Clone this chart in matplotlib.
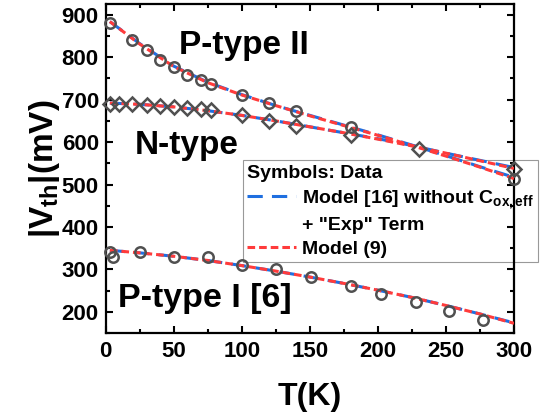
import matplotlib
matplotlib.use("Agg")
import matplotlib.pyplot as plt
from matplotlib.lines import Line2D
from matplotlib.ticker import MultipleLocator

plt.rcParams["font.family"] = ["Liberation Sans", "DejaVu Sans"]
plt.rcParams["font.weight"] = "bold"
plt.rcParams["mathtext.fontset"] = "custom"
plt.rcParams["mathtext.rm"] = "Liberation Sans:bold"
plt.rcParams["mathtext.it"] = "Liberation Sans:bold"
plt.rcParams["mathtext.bf"] = "Liberation Sans:bold"

# ---- data
t_p2 = [3, 19, 30, 40, 50, 60, 70, 77, 100, 120, 140, 180, 300]
v_p2 = [880, 840, 816, 794, 776, 759, 747, 737, 712, 692, 674, 635, 514]

t_n = [3, 10, 19, 30, 40, 50, 60, 70, 77, 100, 120, 140, 180, 230, 300]
v_n = [690, 690, 689, 687, 685, 683, 681, 677, 675, 663, 649, 638, 616, 584, 537]

t_p1 = [3, 5, 25, 50, 75, 100, 125, 151, 180, 202, 228, 252, 277]
v_p1 = [342, 330, 340, 330, 330, 310, 300, 281, 262, 242, 223, 201, 181]

# model curves
t_mod = [3, 25, 50, 75, 100, 125, 150, 175, 200, 225, 250, 275, 300]
blue_p2 = [884, 832, 779, 741, 712, 686, 663, 640, 617, 593, 568, 542, 517]
red_p2 = [884, 831, 778, 740, 711, 686, 662, 639, 616, 592, 567, 541, 514]
blue_n = [692, 689, 683, 674, 663, 650, 636, 622, 608, 592, 574, 557, 540]
red_n = [692, 689, 683, 674, 663, 650, 636, 622, 607, 591, 574, 556, 538]
blue_p1 = [345, 339, 331, 321, 309, 296, 282, 267, 251, 234, 215, 195, 174]
red_p1 = [345, 339, 331, 321, 309, 296, 282, 267, 251, 234, 215, 195, 173]

BLUE = "#1f6fe0"
RED = "#ff3b3b"
GREY = "#505050"
BLUE_DASH = (5, 3)
RED_DASH = (2.5, 1.3)

fig = plt.figure(figsize=(5.48, 4.20), dpi=100)
ax = fig.add_axes([0.193, 0.207, 0.745, 0.783])

# model lines
for yb, yr in [(blue_p2, red_p2), (blue_n, red_n), (blue_p1, red_p1)]:
    ax.plot(t_mod, yb, color=BLUE, lw=2.2, dashes=BLUE_DASH, zorder=2)
    ax.plot(t_mod, yr, color=RED, lw=2.2, dashes=RED_DASH, zorder=3)

mk = dict(ls="none", mfc="none", mec=GREY, mew=1.8, zorder=4, clip_on=False)
ax.plot(t_p2, v_p2, marker="o", ms=7.5, **mk)
ax.plot(t_n, v_n, marker="D", ms=7, **mk)
ax.plot(t_p1, v_p1, marker="o", ms=7.5, **mk)

ax.set_xlim(0, 300)
ax.set_ylim(150, 925)
ax.xaxis.set_major_locator(MultipleLocator(50))
ax.xaxis.set_minor_locator(MultipleLocator(25))
ax.yaxis.set_major_locator(MultipleLocator(100))
ax.yaxis.set_minor_locator(MultipleLocator(50))
ax.tick_params(which="both", direction="in", top=True, right=True,
               width=1.5, labelsize=16)
ax.tick_params(axis="x", pad=6)
ax.tick_params(axis="y", pad=5)
ax.tick_params(which="major", length=5)
ax.tick_params(which="minor", length=3)
for s in ax.spines.values():
    s.set_linewidth(1.6)

ax.set_xlabel("T(K)", fontsize=23, fontweight="bold", labelpad=14)
ax.set_ylabel(r"|V$_{\mathregular{th}}$|(mV)", fontsize=24, fontweight="bold", labelpad=0)

ax.text(54, 808, "P-type II", fontsize=24, fontweight="bold", ha="left", va="baseline")
ax.text(21, 573, "N-type", fontsize=24, fontweight="bold", ha="left", va="baseline")
ax.text(9, 212, "P-type I [6]", fontsize=24.5, fontweight="bold", ha="left", va="baseline")

handles = [
    Line2D([], [], color=BLUE, lw=2.2, dashes=BLUE_DASH),
    Line2D([], [], color="none"),
    Line2D([], [], color=RED, lw=2.2, dashes=RED_DASH),
]
labels = [r"Model [16] without C$_{\mathregular{ox,eff}}$", '+ "Exp" Term', "Model (9)"]
leg = ax.legend(handles, labels, title="Symbols: Data", loc="upper left",
                bbox_to_anchor=(0.335, 0.526), fontsize=14, title_fontsize=14,
                alignment="left", fancybox=False, edgecolor="#999999",
                framealpha=1, handlelength=2.5, handletextpad=0.3,
                borderpad=0.25, labelspacing=0.3, borderaxespad=0)
leg.get_title().set_fontweight("bold")
leg.get_frame().set_linewidth(0.8)
leg.set_zorder(1)

fig.savefig("out.png", dpi=100, facecolor="white")
